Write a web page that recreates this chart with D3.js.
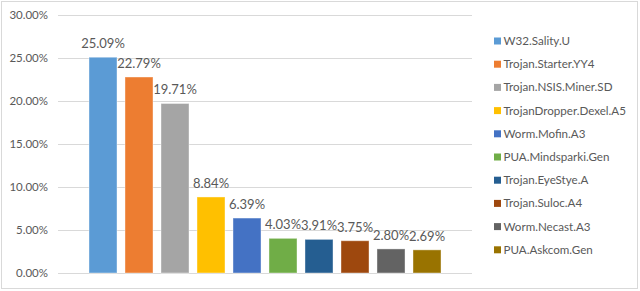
<!DOCTYPE html>
<html><head><meta charset="utf-8">
<script src="https://cdn.jsdelivr.net/npm/d3@7"></script>
<style>body{margin:0;background:#fff}svg{display:block}text{font-family:Lato,"Open Sans",sans-serif}</style>
</head><body><svg id="c" width="640" height="291"></svg>
<script>
const series = ["W32.Sality.U","Trojan.Starter.YY4","Trojan.NSIS.Miner.SD","TrojanDropper.Dexel.A5","Worm.Mofin.A3","PUA.Mindsparki.Gen","Trojan.EyeStye.A","Trojan.Suloc.A4","Worm.Necast.A3","PUA.Askcom.Gen"];
const values = [25.09,22.79,19.71,8.84,6.39,4.03,3.91,3.75,2.80,2.69];
const colors = ["#5B9BD5","#ED7D31","#A5A5A5","#FFC000","#4472C4","#70AD47","#255E91","#9E480E","#636363","#997300"];
const yTicks = [0,5,10,15,20,25,30];

const svg = d3.select("#c");
svg.append("rect").attr("x",1.5).attr("y",1.5).attr("width",636).attr("height",287)
  .attr("fill","#fff").attr("stroke","#D9D9D9");

const plotL = 58, plotR = 472;
const y = d3.scaleLinear().domain([0,30]).range([273,15]);
const x = d3.scaleBand().domain(series).range([85,445]).paddingInner(0.222).paddingOuter(0.111);

const yAxis = d3.axisLeft(y).tickValues(yTicks).tickSize(-(plotR-plotL)).tickPadding(10)
  .tickFormat(d => d.toFixed(2) + "%");
const g = svg.append("g").attr("transform",`translate(${plotL},0)`).call(yAxis);
g.select(".domain").remove();
g.selectAll(".tick line").attr("stroke","#D9D9D9");
g.selectAll(".tick text").attr("fill","#595959").style("font-size","11.5px");

svg.selectAll(".bar").data(values).join("rect")
  .attr("x",(d,i)=>x(series[i])).attr("width",x.bandwidth())
  .attr("y",d=>y(d)).attr("height",d=>y(0)-y(d))
  .attr("fill",(d,i)=>colors[i]).attr("stroke","#fff").attr("stroke-opacity",0.4);

svg.selectAll(".lbl").data(values).join("text")
  .attr("x",(d,i)=>x(series[i])+x.bandwidth()/2).attr("y",d=>y(d)-9)
  .attr("text-anchor","middle").attr("fill","#595959").style("font-size","13px")
  .text(d=>d.toFixed(2)+"%");

const leg = svg.append("g");
series.forEach((s,i)=>{
  const cy = 41 + i*23.2;
  leg.append("rect").attr("x",494).attr("y",cy-3.5).attr("width",7).attr("height",7).attr("fill",colors[i]);
  leg.append("text").attr("x",503.5).attr("y",cy).attr("dy","0.35em").attr("fill","#595959")
    .style("font-size","11.6px").text(s);
});
</script></body></html>
